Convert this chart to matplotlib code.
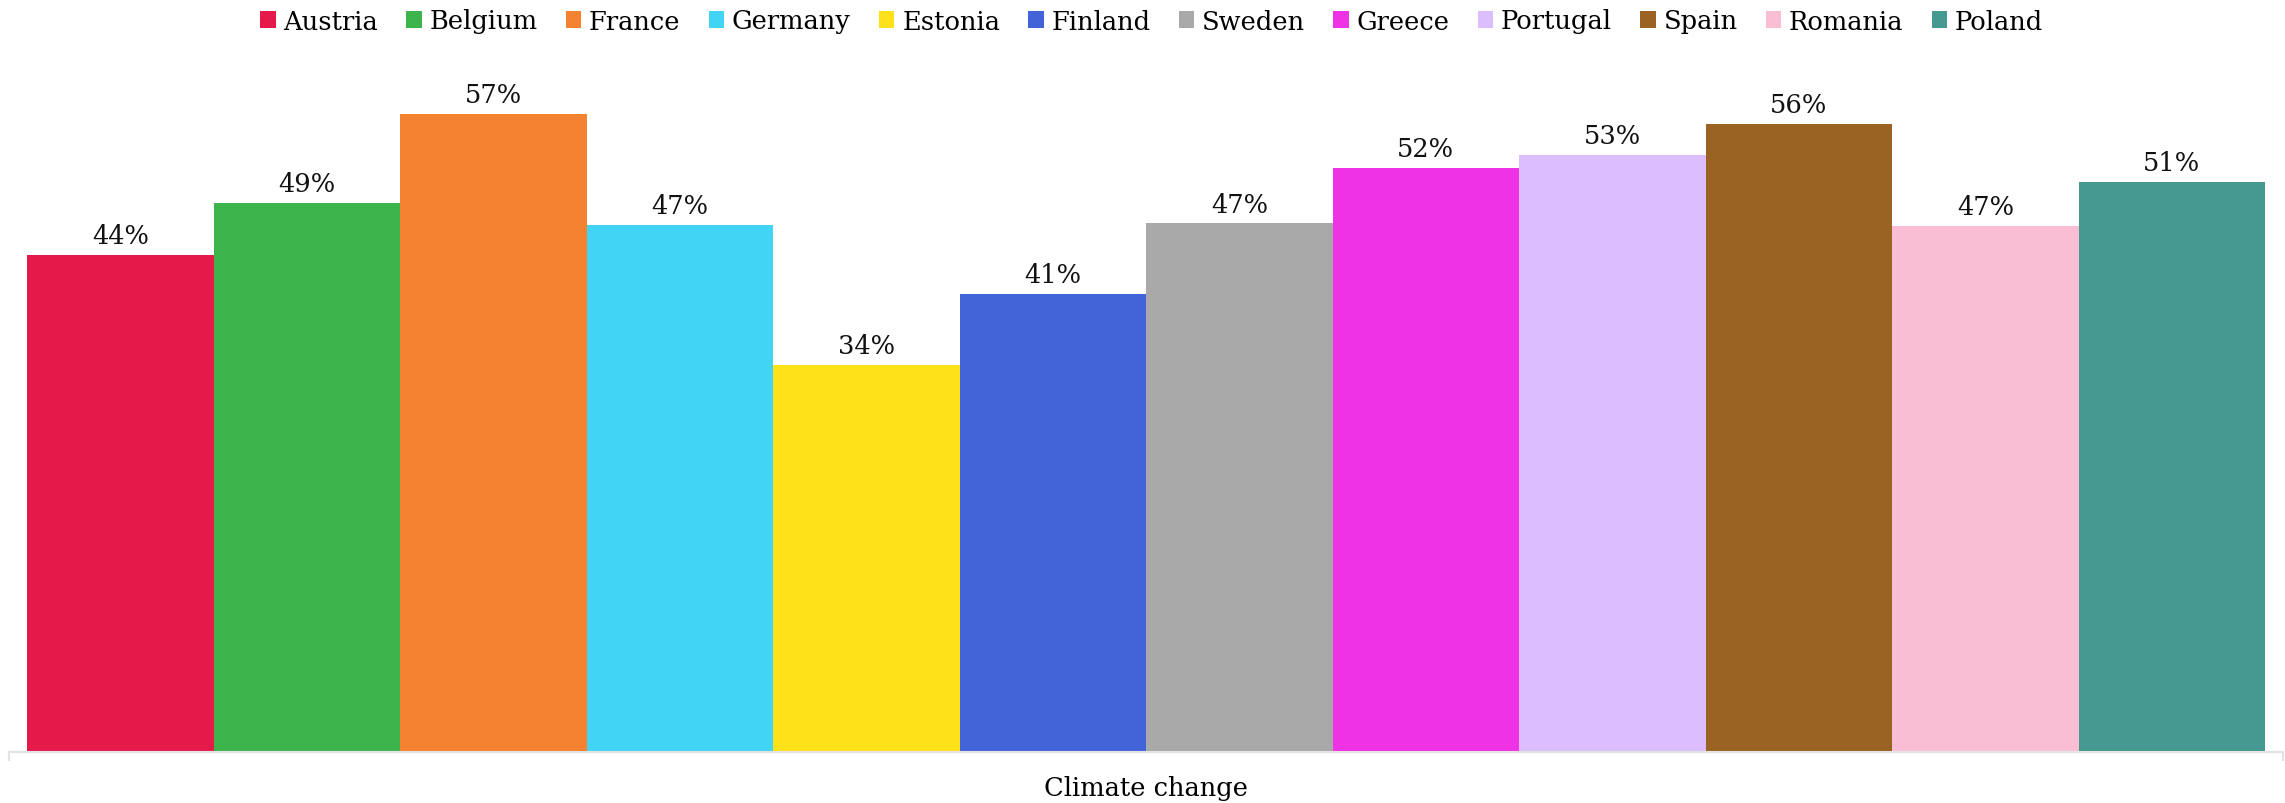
import numpy as np
import matplotlib.pyplot as plt
from matplotlib.patches import Patch

# Data
category = "Climate change"
countries = ["Austria", "Belgium", "France", "Germany", "Estonia", "Finland",
             "Sweden", "Greece", "Portugal", "Spain", "Romania", "Poland"]
values = [44.1, 48.7, 56.6, 46.8, 34.3, 40.6, 46.9, 51.8, 53.0, 55.7, 46.7, 50.6]
colors = ["#E6194B", "#3CB44B", "#F58231", "#42D4F4", "#FFE119", "#4363D8",
          "#A9A9A9", "#F032E6", "#DCBEFF", "#9A6324", "#FABED4", "#469990"]

plt.rcParams['font.family'] = ['DejaVu Serif']

W, H = 2285, 804
fig = plt.figure(figsize=(W / 100, H / 100), dpi=100)

# axes box in pixels
left_px, right_px = 9, 2283
bottom_px, top_px = 752.7, 60
ax = fig.add_axes([left_px / W, 1 - bottom_px / H,
                   (right_px - left_px) / W, (bottom_px - top_px) / H])

x = np.arange(len(countries))
bars = ax.bar(x + 0.5, values, width=1.0, color=colors, linewidth=0)

for rect, v in zip(bars, values):
    ax.annotate(f"{round(v)}%", (rect.get_x() + rect.get_width() / 2, rect.get_height()),
                xytext=(0, 5), textcoords="offset points",
                ha="center", va="bottom", fontsize=18.5, color="#111111")

pad = 18 / 186.5
ax.set_xlim(-pad, len(countries) + pad)
ax.set_ylim(0, 61.5)

for s in ["top", "right", "left"]:
    ax.spines[s].set_visible(False)
ax.spines["bottom"].set_color("#e3e3e3")
ax.spines["bottom"].set_linewidth(1.5)
ax.set_yticks([])

ax.set_xticks([-pad, len(countries) + pad])
ax.set_xticklabels([])
ax.tick_params(axis="x", which="major", length=6.5, width=1.5, color="#e3e3e3")
ax.set_xticks([len(countries) / 2], minor=True)
ax.set_xticklabels([category], minor=True, fontsize=18.5)
ax.tick_params(axis="x", which="minor", length=0, pad=17)

handles = [Patch(facecolor=c, edgecolor="none", label=n) for n, c in zip(countries, colors)]
fig.legend(handles=handles, loc="center", bbox_to_anchor=(0.504, 1 - 22 / H),
           ncol=len(countries), frameon=False, fontsize=18.5,
           handlelength=0.6, handleheight=0.6, handletextpad=0.3, columnspacing=1.1)

fig.savefig("out.png", dpi=100)
